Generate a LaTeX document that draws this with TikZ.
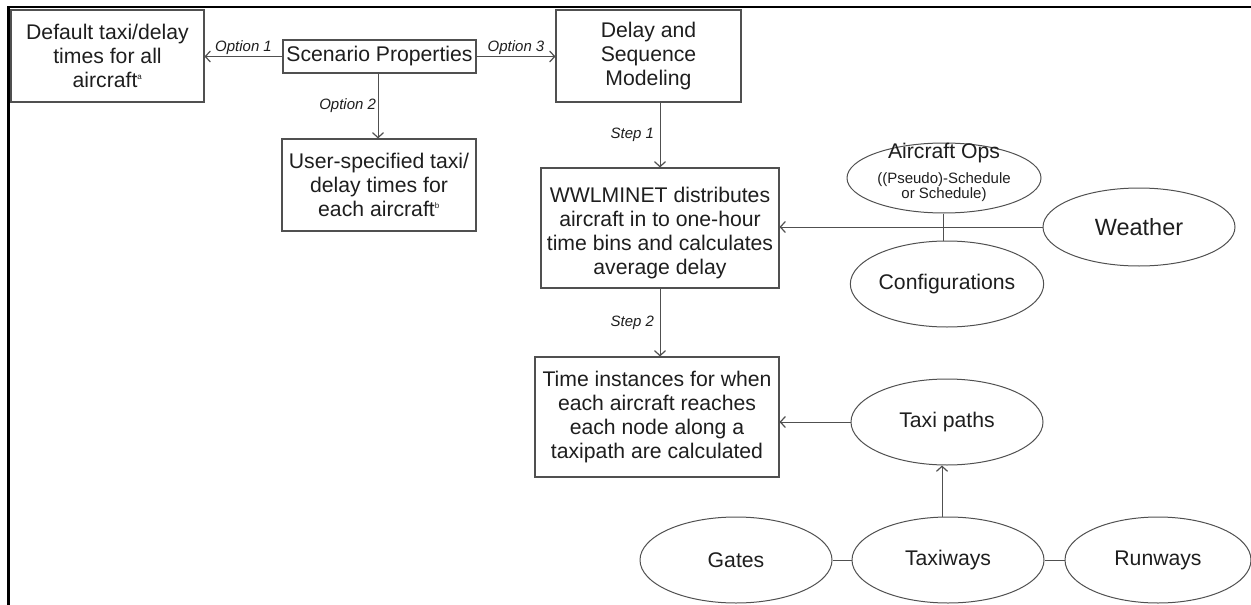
\documentclass[tikz,border=0pt]{standalone}
\usepackage{fontspec}
\setmainfont{Liberation Sans}
\usetikzlibrary{shapes.geometric,arrows.meta}
\definecolor{edgec}{RGB}{80,80,80}
\definecolor{txtc}{RGB}{30,30,30}
\newcommand{\supsmall}[1]{\textsuperscript{\fontsize{8}{8}\selectfont #1}}
\tikzset{
  big/.style={font=\fontsize{21.2}{23.8}\selectfont},
  procbox/.style={draw=edgec, line width=1.1pt, rectangle, align=center, inner sep=0pt, text=txtc, big},
  srcell/.style={draw=edgec, line width=1pt, ellipse, align=center, inner sep=0pt, text=txtc, big},
  flow/.style={draw=edgec, line width=1pt, -{Straight Barb[length=5pt,width=11pt,line width=1.2pt]}},
  tie/.style={draw=edgec, line width=1pt},
  optlab/.style={font=\fontsize{15}{16}\selectfont\itshape, text=txtc, inner sep=1.5pt}
}
\begin{document}
\begin{tikzpicture}[x=1pt,y=-1pt]
\useasboundingbox (0,0) rectangle (1251,605);
% outer frame (top and left edges)
\draw[line width=2.6pt, black] (1251,7) -- (8.6,7) -- (8.6,605);

% process boxes
\node[procbox, minimum width=193pt, minimum height=92pt] (deflt) at (107.5,56)
  {Default taxi/delay\\times for all\\aircraft\supsmall{a}};
\node[procbox, minimum width=193pt, minimum height=33pt] (scen) at (379.5,56.5)
  {Scenario Properties};
\node[procbox, minimum width=194pt, minimum height=92pt] (user) at (379,185)
  {User-specified taxi/\\delay times for\\each aircraft\supsmall{b}};
\node[procbox, minimum width=185pt, minimum height=92pt] (dsm) at (648.5,56)
  {Delay and\\Sequence\\Modeling};
\node[procbox, minimum width=238pt, minimum height=120pt] (wwl) at (660,228) {};
\node[align=center, text=txtc, inner sep=0pt, big] (wwltext) at (660,233)
  {WWLMINET distributes\\aircraft in to one-hour\\time bins and calculates\\average delay};
\node[procbox, minimum width=244pt, minimum height=120pt] (tinst) at (657,417)
  {Time instances for when\\each aircraft reaches\\each node along a\\taxipath are calculated};

% input ellipses
\node[srcell, minimum width=194pt, minimum height=70pt] (ops) at (944,178) {};
\node[align=center, text=txtc, inner sep=0pt] (opstext) at (944,172)
  {{\fontsize{21.2}{22}\selectfont Aircraft Ops}\\[9pt]
   {\fontsize{15}{18}\selectfont ((Pseudo)-Schedule}\\
   {\fontsize{15}{18}\selectfont or Schedule)}};
\node[srcell, minimum width=192pt, minimum height=78pt, font=\fontsize{23.5}{26}\selectfont] (weather) at (1139,227) {Weather};
\node[srcell, minimum width=193pt, minimum height=86pt] (conf) at (947,284) {Configurations};
\node[srcell, minimum width=192pt, minimum height=86pt] (taxi) at (947,422) {Taxi paths};
\node[srcell, minimum width=192pt, minimum height=86pt] (gates) at (736,560) {Gates};
\node[srcell, minimum width=192pt, minimum height=86pt] (taxiways) at (948,560) {Taxiways};
\node[srcell, minimum width=186pt, minimum height=86pt] (runways) at (1158,560) {Runways};

% connectors
\draw[flow] (scen.west) -- node[optlab, above] {Option 1} (deflt.east |- scen.west);
\draw[flow] (scen.south -| 378,0) -- node[optlab, left] {Option 2} (user.north -| 378,0);
\draw[flow] (scen.east) -- node[optlab, above] {Option 3} (dsm.west |- scen.east);
\draw[flow] (wwl.north |- dsm.south) -- node[optlab, left, xshift=-4pt] {Step 1} (wwl.north);
\draw[flow] (wwl.south) -- node[optlab, left, xshift=-4pt] {Step 2} (wwl.south |- tinst.north);
\draw[flow] (weather.west) -- (wwl.east |- weather.west);
\draw[tie] (ops.south -| 943,0) -- (conf.north -| 943,0);
\draw[flow] (taxi.west) -- (tinst.east |- taxi.west);
\draw[flow] (taxiways.north -| 942,0) -- (taxi.south -| 942,0);
\draw[tie] (gates.east) -- (taxiways.west);
\draw[tie] (taxiways.east) -- (runways.west);
\end{tikzpicture}
\end{document}
